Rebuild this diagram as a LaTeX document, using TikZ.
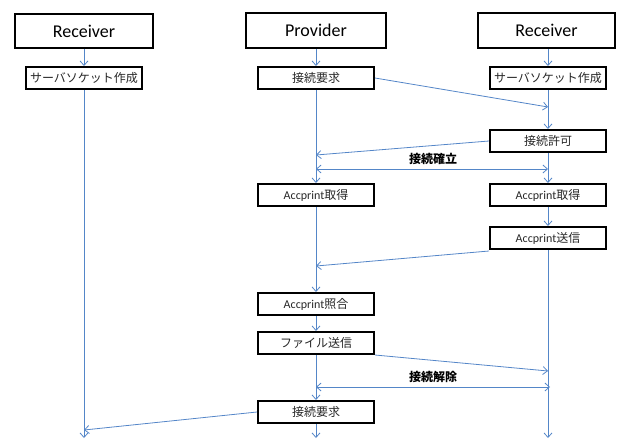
\documentclass[tikz,border=0pt]{standalone}
\usepackage{fontspec}
\setmainfont{Carlito}
\newfontfamily\jp{Noto Sans CJK JP}
\usetikzlibrary{arrows.meta}
\definecolor{flow}{RGB}{84,134,200}
\definecolor{ink}{RGB}{40,40,40}
\tikzset{
  head/.style={draw=black, line width=2pt, fill=white, inner sep=0pt,
    font=\fontsize{18}{20}\selectfont},
  stepbox/.style={draw=black, line width=2pt, fill=white, minimum width=116pt,
    minimum height=22pt, inner sep=0pt, text=ink, font=\fontsize{12}{14}\selectfont},
  flowline/.style={draw=flow, line width=0.8pt},
  barb/.tip={Straight Barb[length=4.5pt,width=8pt,line width=0.8pt]},
  tip/.style={flowline, -barb},
  both/.style={flowline, barb-barb},
  msglabel/.style={font=\jp\bfseries\fontsize{12}{14}\selectfont, inner sep=0pt}
}
\begin{document}
\begin{tikzpicture}[x=1pt,y=-1pt]
\useasboundingbox (0,0) rectangle (617,439);

% lifeline headers
\node[head, minimum width=138pt, minimum height=34pt] (hRL) at (84,31) {Receiver};
\node[head, minimum width=140pt, minimum height=35pt] (hP)  at (316,30.5) {Provider};
\node[head, minimum width=137pt, minimum height=35pt] (hRR) at (546.5,30.5) {Receiver};

% steps
\node[stepbox] (lS) at (84,78)   {\jp サーバソケット作成};
\node[stepbox] (p1) at (316,78)  {\jp 接続要求};
\node[stepbox] (r1) at (548,78)  {\jp サーバソケット作成};
\node[stepbox] (r2) at (548,141) {\jp 接続許可};
\node[stepbox] (p2) at (316,195) {Accprint{\jp 取得}};
\node[stepbox] (r3) at (548,195) {Accprint{\jp 取得}};
\node[stepbox] (r4) at (548,238) {Accprint{\jp 送信}};
\node[stepbox] (p3) at (316,304) {Accprint{\jp 照合}};
\node[stepbox] (p4) at (316,343) {\jp ファイル送信};
\node[stepbox] (p5) at (316,412) {\jp 接続要求};

% message end points on the lifelines
\coordinate (m1) at (548,107);
\coordinate (m2) at (316,155);
\coordinate (e1a) at (316,169);
\coordinate (e1b) at (548,169);
\coordinate (m3) at (316,266);
\coordinate (m4) at (548,371);
\coordinate (e2a) at (316,387);
\coordinate (e2b) at (550,387);
\coordinate (m5) at (84,430);
\coordinate (lEnd) at (84,438);
\coordinate (pEnd) at (316,438);
\coordinate (rEnd) at (548,438);

% lifelines
\draw[tip] (hRL) -- (lS);
\draw[tip] (hP) -- (p1);
\draw[tip] (r1.north |- hRR.south) -- (r1.north);
\draw[tip] (lS) -- (lEnd);
\draw[tip] (p1) -- (p2);
\draw[tip] (r1) -- (r2);
\draw[tip] (r2) -- (r3);
\draw[tip] (r3) -- (r4);
\draw[tip] (r4) -- (rEnd);
\draw[tip] (p2) -- (p3);
\draw[tip] (p3) -- (p4);
\draw[tip] (p4) -- (p5);
\draw[tip] (p5) -- (pEnd);

% messages
\draw[tip] (p1.east) -- (m1);
\draw[tip] (r2.west) -- (m2);
\draw[both] (e1a) -- (e1b);
\node[msglabel] (l1) at (433,159) {接続確立};
\draw[tip] ([yshift=-1pt]r4.south west) -- (m3);
\draw[tip] (p4.south east) -- (m4);
\draw[both] (e2a) -- (e2b);
\node[msglabel] (l2) at (433,377) {接続解除};
\draw[tip] (p5.west) -- (m5);
\end{tikzpicture}
\end{document}
